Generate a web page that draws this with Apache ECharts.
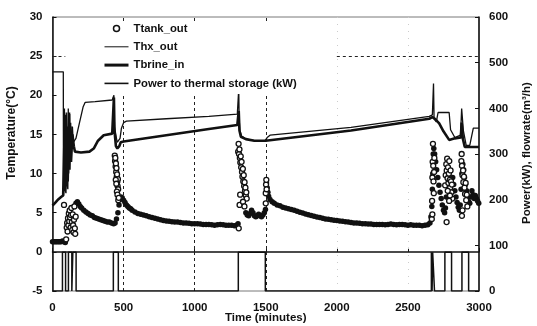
<!DOCTYPE html>
<html><head><meta charset="utf-8">
<script src="https://cdn.jsdelivr.net/npm/echarts@6/dist/echarts.min.js"></script>
<style>html,body{margin:0;padding:0;background:#fff}#c{width:537px;height:326px}</style>
</head><body><div id="c"></div>
<script>
// ---- data ----
const xTicks = [0, 500, 1000, 1500, 2000, 2500, 3000];
const tempTicks = [-5, 0, 5, 10, 15, 20, 25, 30];
const powerTicks = [0, 100, 200, 300, 400, 500, 600];

// Ttank_out, dense part (minutes, degC)
const tankBand = [
 [0,1.3],[10,1.3],[20,1.3],[30,1.3],[40,1.3],[50,1.3],[60,1.3],[70,1.4],[80,1.3],[90,1.2],
 [165,6.2],[175,6.4],[185,6.1],[195,5.8],[205,5.6],[220,5.3],[235,5.1],[250,4.9],[265,4.7],[280,4.6],
 [295,4.4],[310,4.3],[325,4.2],[340,4.1],[355,4.0],[370,3.9],[385,3.8],[400,3.8],[415,3.7],[430,3.6],
 [440,3.7],[450,4.2],[460,5.0],[468,6.0],[475,6.8],[482,7.0],
 [490,6.9],[500,6.6],[510,6.3],[520,6.0],[530,5.8],[540,5.6],[550,5.5],[560,5.3],[580,5.1],[600,4.9],
 [620,4.8],[640,4.7],[660,4.6],[680,4.5],[700,4.4],[720,4.3],[740,4.2],[760,4.1],[780,4.0],[800,3.95],
 [820,3.9],[840,3.85],[860,3.8],[880,3.8],[900,3.75],[920,3.7],[940,3.7],[960,3.65],[980,3.6],[1000,3.6],
 [1020,3.6],[1040,3.55],[1060,3.5],[1080,3.5],[1100,3.5],[1120,3.45],[1140,3.4],[1160,3.45],[1180,3.5],
 [1200,3.45],[1220,3.4],[1240,3.4],[1260,3.4],[1280,3.35],[1295,3.4],[1305,3.6],
 [1360,5.0],[1370,4.7],[1380,4.6],[1390,4.9],[1400,5.3],[1410,5.0],[1420,4.6],[1430,4.5],[1440,4.6],
 [1450,4.8],[1460,4.6],[1470,4.5],[1480,4.7],[1490,5.0],[1498,5.4],
 [1505,8.8],[1510,8.2],[1515,7.6],[1520,7.1],[1530,6.7],[1545,6.4],[1560,6.2],[1580,6.0],[1600,5.9],
 [1620,5.7],[1640,5.6],[1660,5.5],[1680,5.4],[1700,5.3],[1720,5.2],[1740,5.05],[1760,4.95],[1780,4.85],
 [1800,4.75],[1820,4.65],[1840,4.55],[1860,4.45],[1880,4.4],[1900,4.3],[1920,4.2],[1940,4.15],[1960,4.1],
 [1980,4.05],[2000,4.0],[2020,3.95],[2040,3.9],[2060,3.85],[2080,3.8],[2100,3.75],[2120,3.7],[2140,3.7],
 [2160,3.65],[2180,3.6],[2200,3.6],[2220,3.55],[2240,3.55],[2260,3.5],[2280,3.5],[2300,3.5],[2320,3.5],
 [2340,3.45],[2360,3.5],[2380,3.55],[2400,3.5],[2420,3.45],[2440,3.5],[2460,3.5],[2480,3.45],[2500,3.4],
 [2520,3.45],[2540,3.4],[2560,3.4],[2580,3.4],[2600,3.35],[2620,3.4],[2640,3.45],[2655,3.7],[2662,4.5],
 [2668,5.8],[2672,8],[2675,10],[2678,12.5],[2682,13.2],[2688,12.5],[2695,11.5],[2702,10.5],[2710,9.5],
 [2718,8.5],[2726,7.6],[2734,6.8],[2742,6.0],[2750,5.3],[2758,5.0],[2764,5.6],[2770,7],
 [2815,9.5],[2822,8.6],[2830,7.8],[2838,7.0],[2846,6.3],[2854,5.7],[2862,5.3],[2868,6.0],[2874,8],
 [2880,10],[2886,11.2],[2892,10.5],[2898,9.5],[2905,8.6],[2912,7.8],[2920,7.0],[2928,6.4],[2935,6.2],
 [2942,7.0],[2950,7.8],[2958,7.3],[2966,6.8],[2974,7.2],[2982,6.8],[2990,6.5],[2998,6.2]
];
// Ttank_out, scattered readings
const tankScatter = [
 [81,6.0],[96,1.6],[100,3.1],[103,3.7],[106,2.6],[109,4.3],[112,3.4],[115,4.9],[118,3.9],[121,5.3],
 [124,4.4],[127,3.1],[130,4.7],[133,5.6],[136,3.8],[139,2.8],[142,4.8],[145,3.4],[148,2.5],[151,4.1],
 [154,5.8],[157,3.0],[160,2.3],[163,4.5],
 [438,12.3],[440,11.6],[442,12.0],[444,10.9],[446,11.3],[448,10.2],[450,10.7],[452,9.6],[454,9.9],
 [456,9.0],[458,8.4],[460,9.3],[462,8.0],[445,9.2],[449,8.7],[453,7.7],[457,7.3],[463,6.6],[466,6.9],
 [1306,12.8],[1309,13.8],[1312,12.5],[1315,13.1],[1318,12.0],[1321,11.4],[1324,12.2],[1327,10.8],
 [1330,11.5],[1333,10.2],[1336,9.6],[1339,10.6],[1342,9.0],[1345,9.8],[1348,8.4],[1351,8.9],[1354,7.8],
 [1357,8.2],[1360,7.2],[1363,7.6],[1366,6.8],[1310,3.0],[1316,6.0],[1320,7.3],[1340,6.4],[1350,5.8],
 [1500,7.5],[1502,8.6],[1504,9.2],[1506,8.0],[1500,6.2],
 [2668,4.2],[2670,6.5],[2672,9.5],[2674,11.5],[2676,13.8],[2678,11.0],[2680,9.0],[2682,7.5],[2684,10.2],
 [2686,12.0],[2672,4.8],
 [2762,8.5],[2766,9.8],[2770,11.2],[2773,10.4],[2776,11.9],[2779,9.4],[2782,10.8],[2785,8.8],[2788,10.0],
 [2791,11.6],[2794,9.2],[2797,8.2],[2800,10.4],[2803,9.0],[2806,7.6],[2809,8.6],[2812,6.8],[2772,3.8],
 [2790,6.5],[2796,7.2],[2780,7.8],
 [2876,11.6],[2878,12.5],[2880,11.0],[2884,9.8],[2888,10.4],[2890,8.9],[2894,9.6],[2898,8.2],[2902,7.4],
 [2880,4.6],[2884,5.3],[2906,8.8],[2910,6.6],[2914,7.3],[2918,5.8]
];
// Thx_out (minutes, degC)
const thxOut = [
 [0,23],[76,23],[77,7.2],[82,9],[84,18.3],[86,8],[95,7.5],[97,17.8],[100,9],[108,8],[111,18.3],[114,10],
 [121,17.6],[124,12],[128,16.5],[132,13],[140,16],[146,14],[165,14.5],[190,16.5],[215,18.5],[230,19.1],
 [300,19.2],[420,19.4],[428,19.4],[432,20.0],[436,16],[445,15],[455,14],[465,13.8],[475,14.5],[485,15.8],
 [500,16.5],[520,16.7],[800,17.0],[1100,17.3],[1300,17.6],[1305,17.6],[1310,20.8],[1313,17],[1318,15.5],
 [1330,14.8],[1360,14.4],[1420,14.2],[1495,14.2],[1510,14.6],[1530,14.9],[2100,15.9],[2650,17.3],
 [2672,17.5],[2680,21.5],[2684,17],[2700,16.6],[2712,17.8],[2790,17.8],[2800,15.6],[2830,14.6],
 [2870,14.9],[2878,18.3],[2890,15.5],[2910,13.6],[2935,13.6],[2960,15.8],[3000,15.8]
];
// Tbrine_in (minutes, degC)
const brineIn = [
 [0,5.9],[20,6.3],[40,6.7],[60,7.0],[75,7.2],[80,7.4],[85,15],[88,8],[93,17.5],[96,8.5],[104,16],[107,9],
 [116,17.8],[119,10.5],[125,16],[130,11.5],[140,15],[150,13.5],[158,12.8],[200,12.7],[260,12.8],
 [290,13.2],[320,14.2],[360,14.9],[420,15.1],[428,15.2],[432,19.7],[436,15.5],[446,13.5],[456,13.2],
 [470,13.5],[480,14.0],[500,14.1],[800,14.9],[1100,15.7],[1300,16.2],[1305,16.3],[1310,18],[1315,15.5],
 [1325,14.7],[1360,14.4],[1420,14.2],[1500,14.2],[1510,14.3],[2100,15.5],[2650,17.0],[2672,17.2],
 [2690,17.0],[2720,16.4],[2750,15.4],[2790,14.3],[2830,14.5],[2872,14.6],[2878,16.5],[2886,14.5],
 [2900,13.4],[3000,13.4]
];
// Power to thermal storage (kW): switching times and levels
const powerTimes  = [0, 70, 92, 112, 136, 143, 166, 428, 463, 1307, 1497, 2665, 2670, 2674, 2687, 2760, 2807, 2880, 2927, 3000];
const powerLevels = [0, 85, 0,  85,  0,   85,  0,   85,  0,   85,   0,    85,   0,    85,   0,    85,   0,    85,   0,    0];

// ---- chart ----
const FONT = 'Liberation Sans';
const INK = '#111';
const power = powerTimes.map((t, i) => [t, powerLevels[i]]);
const lbl = {color: INK, fontFamily: FONT, fontWeight: 'bold', fontSize: 11.5};
const plain = v => String(v);
const noDot = {opacity: 0};

const chart = echarts.init(document.getElementById('c'), null, {renderer: 'canvas'});
chart.setOption({
  animation: false,
  backgroundColor: '#fff',
  grid: {left: 52.5, right: 58, top: 17, bottom: 35, outerBoundsMode: 'none', containLabel: false,
         show: true, borderColor: '#555', borderWidth: 0.8},
  legend: {
    orient: 'vertical', left: 101, top: 21, padding: [2, 4, 5, 2], itemGap: 7.3,
    itemWidth: 24, itemHeight: 6, backgroundColor: '#fff',
    textStyle: {color: INK, fontFamily: FONT, fontWeight: 'bold', fontSize: 11.3},
    data: [
      {name: 'Ttank_out', icon: 'circle', itemStyle: {color: '#fff', borderColor: INK, borderWidth: 1.5}},
      {name: 'Thx_out', itemStyle: noDot, lineStyle: {width: 1, color: INK}},
      {name: 'Tbrine_in', itemStyle: noDot, lineStyle: {width: 3, color: INK}},
      {name: 'Power to thermal storage (kW)', itemStyle: noDot, lineStyle: {width: 1.6, color: INK}}
    ]
  },
  xAxis: {
    type: 'value', min: xTicks[0], max: xTicks[xTicks.length - 1], interval: 500,
    name: 'Time (minutes)', nameLocation: 'middle', nameGap: 21, nameMoveOverlap: false,
    nameTextStyle: lbl,
    axisLine: {lineStyle: {color: INK, width: 1.5}},
    axisTick: {inside: true, length: 4, lineStyle: {color: INK}},
    axisLabel: Object.assign({margin: 11, formatter: plain}, lbl),
    splitLine: {show: false}
  },
  yAxis: [
    {
      type: 'value', min: tempTicks[0], max: tempTicks[tempTicks.length - 1], interval: 5,
      axisLine: {show: true, lineStyle: {color: INK, width: 1.5}},
      axisTick: {show: true, inside: true, length: 4, lineStyle: {color: INK}},
      axisLabel: Object.assign({margin: 10, formatter: plain}, lbl),
      splitLine: {show: false}
    },
    {
      type: 'value', position: 'right', min: powerTicks[0], max: powerTicks[powerTicks.length - 1], interval: 100,
      axisLine: {show: true, lineStyle: {color: INK, width: 1.5}},
      axisTick: {show: true, inside: true, length: 4, lineStyle: {color: INK}},
      axisLabel: Object.assign({margin: 10, formatter: plain}, lbl),
      splitLine: {show: false}
    }
  ],
  graphic: [
    {type: 'text', x: 12, y: 133, rotation: Math.PI / 2,
     style: {text: 'Temperature(°C)', fill: INK, font: 'bold 12px ' + FONT, textAlign: 'center', textVerticalAlign: 'middle'}},
    {type: 'text', x: 527, y: 153, rotation: Math.PI / 2,
     style: {text: 'Power(kW), flowrate(m³/h)', fill: INK, font: 'bold 11.5px ' + FONT, textAlign: 'center', textVerticalAlign: 'middle'}}
  ],
  series: [
    {
      name: 'Thx_out', type: 'line', yAxisIndex: 0, data: thxOut, symbol: 'none', z: 3,
      itemStyle: {color: INK},
      lineStyle: {color: INK, width: 1.3},
      markLine: {
        silent: true, symbol: 'none', label: {show: false}, z: 1,
        lineStyle: {color: '#222', type: [3, 3], width: 1},
        data: [
          {xAxis: 500}, {xAxis: 1000}, {xAxis: 1500},
          {xAxis: 2000, lineStyle: {color: '#ccc', type: [1, 6]}},
          {xAxis: 2500, lineStyle: {color: '#ccc', type: [1, 6]}},
          [{coord: [2000, 25]}, {coord: [3000, 25]}],
          [{coord: [0, 25]}, {coord: [90, 25]}]
        ]
      }
    },
    {
      name: 'Tbrine_in', type: 'line', yAxisIndex: 0, data: brineIn, symbol: 'none', z: 3,
      itemStyle: {color: INK},
      lineStyle: {color: INK, width: 2.6}
    },
    {
      name: 'Power to thermal storage (kW)', type: 'line', yAxisIndex: 1, data: power, step: 'end',
      symbol: 'none', z: 3, itemStyle: {color: INK}, lineStyle: {color: INK, width: 1.5}
    },
    {
      name: 'Ttank_out', type: 'scatter', yAxisIndex: 0, data: tankBand, symbol: 'circle', symbolSize: 5.5, z: 4,
      itemStyle: {color: INK, opacity: 1}
    },
    {
      name: 'Ttank_out', type: 'scatter', yAxisIndex: 0, data: tankScatter, symbol: 'circle', symbolSize: 5, z: 5,
      itemStyle: {color: '#fff', borderColor: INK, borderWidth: 1.3, opacity: 1}
    }
  ]
});
</script></body></html>
